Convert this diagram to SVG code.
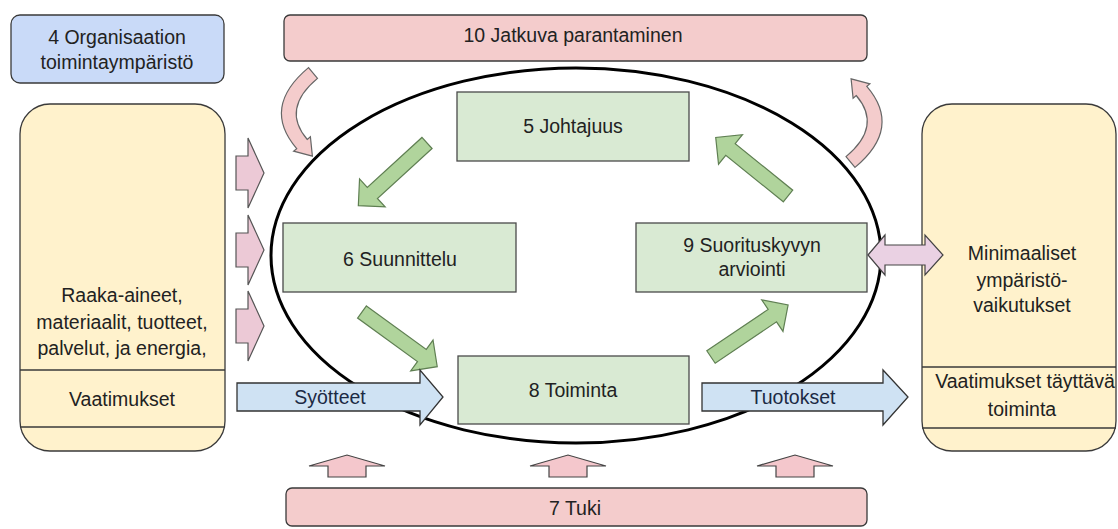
<svg xmlns="http://www.w3.org/2000/svg" width="1118" height="529" viewBox="0 0 1118 529">
<defs>
<style>
text{font-family:"Liberation Sans",Arial,sans-serif;font-size:19.5px;fill:#222;text-anchor:middle;dominant-baseline:central}
.blue{fill:#c9daf8;stroke:#3a3a3a;stroke-width:1.3}
.pink{fill:#f4cccc;stroke:#3a3a3a;stroke-width:1.3}
.yel{fill:#fff2cc;stroke:#3a3a3a;stroke-width:1.3}
.grn{fill:#d9ead3;stroke:#4a4a4a;stroke-width:1.3}
.ga{fill:#b0d49c;stroke:#5f7f52;stroke-width:1.2}
.pa{fill:#ecc9d6;stroke:#555;stroke-width:1.2}
.ua{fill:#f4c7cc;stroke:#444;stroke-width:1.2}
.ca{fill:#f4cccc;stroke:#666;stroke-width:1.2}
.da{fill:#ead1e3;stroke:#444;stroke-width:1.2}
.ba{fill:#cfe2f3;stroke:#333;stroke-width:1.3}
.line{stroke:#3a3a3a;stroke-width:1.3}
</style>
<path id="garrow" d="M0,-7.5 H74 V-19 L93,0 L74,19 V7.5 H0 Z"/>
<path id="curve" d="M308.5,67.6 Q261.1,107.2 296.7,148.6 L293.6,151.2 L312.4,156.2 L310.4,136.8 L307.3,139.5 Q280.9,108.8 317.5,78.4 Z"/>
</defs>
<rect width="1118" height="529" fill="#ffffff"/>

<ellipse cx="576" cy="255.5" rx="305" ry="187.5" fill="none" stroke="#000" stroke-width="3"/>

<g id="n4">
<rect class="blue" x="11" y="15" width="213" height="68" rx="9"/>
<text x="117" y="37">4 Organisaation</text>
<text x="117" y="62">toimintaympäristö</text>
</g>

<g id="n10">
<rect class="pink" x="284" y="15" width="583" height="46" rx="6"/>
<text x="573" y="35">10 Jatkuva parantaminen</text>
</g>

<g id="n7">
<rect class="pink" x="286" y="488" width="581" height="38" rx="6"/>
<text x="575" y="508">7 Tuki</text>
</g>

<g id="inputs">
<rect class="yel" x="20" y="104" width="205" height="347" rx="30"/>
<line class="line" x1="20" y1="370" x2="225" y2="370"/>
<line class="line" x1="20" y1="427" x2="225" y2="427"/>
<text x="122" y="295">Raaka-aineet,</text>
<text x="122" y="322">materiaalit, tuotteet,</text>
<text x="122" y="348">palvelut, ja energia,</text>
<text x="122" y="399">Vaatimukset</text>
</g>

<g id="outputs">
<rect class="yel" x="922" y="104" width="194" height="347" rx="30"/>
<line class="line" x1="922" y1="367" x2="1116" y2="367"/>
<line class="line" x1="922" y1="428" x2="1116" y2="428"/>
<text x="1022" y="253">Minimaaliset</text>
<text x="1022" y="280">ympäristö-</text>
<text x="1022" y="305">vaikutukset</text>
<text x="1025" y="381">Vaatimukset täyttävä</text>
<text x="1022" y="409">toiminta</text>
</g>

<g id="n5">
<rect class="grn" x="457" y="92" width="232" height="69"/>
<text x="573" y="126">5 Johtajuus</text>
</g>
<g id="n6">
<rect class="grn" x="283" y="223" width="233" height="69"/>
<text x="400" y="259">6 Suunnittelu</text>
</g>
<g id="n8">
<rect class="grn" x="458" y="356" width="231" height="68"/>
<text x="573" y="390">8 Toiminta</text>
</g>
<g id="n9">
<rect class="grn" x="636" y="223" width="231" height="69"/>
<text x="752" y="245">9 Suorituskyvyn</text>
<text x="752" y="269">arviointi</text>
</g>

<g id="connectors">
<use href="#garrow" class="ga" transform="translate(427,143) rotate(137.6)"/>
<use href="#garrow" class="ga" transform="translate(362,312) rotate(36)"/>
<use href="#garrow" class="ga" transform="translate(711,357) rotate(-34)"/>
<use href="#garrow" class="ga" transform="translate(788,196) rotate(-141)"/>

<use href="#curve" class="ca"/>
<use href="#curve" class="ca" transform="rotate(180 581.75 117.5)"/>

<path class="pa" d="M236,156 H248 V138 L264,173 L248,208 V190 H236 Z"/>
<path class="pa" d="M236,233 H248 V215 L264,250 L248,285 V267 H236 Z"/>
<path class="pa" d="M236,309 H248 V291 L264,326 L248,361 V343 H236 Z"/>

<path class="ua" d="M328,477 V466 H309 L347,455 L385,466 H366 V477 Z"/>
<path class="ua" d="M549,477 V466 H530 L568,455 L606,466 H587 V477 Z"/>
<path class="ua" d="M776,477 V466 H757 L795,455 L833,466 H814 V477 Z"/>

<path class="da" d="M868,255 L885,235 V245 H925 V235 L943,255 L925,275 V265 H885 V275 Z"/>

<path class="ba" d="M237,383 H420 V370 L443,397 L420,425 V411 H237 Z"/>
<text x="330" y="397" style="fill:#1c2a44">Syötteet</text>
<path class="ba" d="M702,383 H883 V370 L908,397 L883,425 V411 H702 Z"/>
<text x="793" y="397" style="fill:#1c2a44">Tuotokset</text>
</g>
</svg>
